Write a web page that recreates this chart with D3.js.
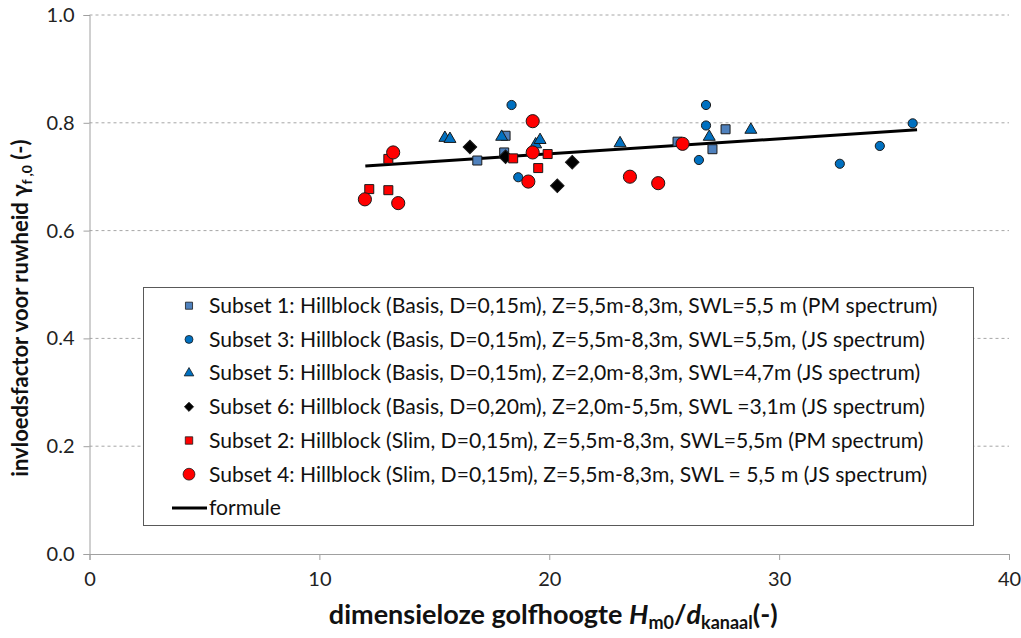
<!DOCTYPE html>
<html lang="nl">
<head>
<meta charset="UTF-8">
<title>invloedsfactor ruwheid</title>
<script src="https://d3js.org/d3.v7.min.js"></script>
<style>
  body { margin: 0; background: #fff; }
  text { font-family: Lato, "Open Sans", "DejaVu Sans", sans-serif; }
</style>
</head>
<body>
<script>
// data
var xTicks = [0, 10, 20, 30, 40];
var yTicks = [0, 0.2, 0.4, 0.6, 0.8, 1.0];

var s1x = [16.87, 18.1, 18.04, 25.58, 27.67, 27.1];
var s1y = [0.730, 0.776, 0.745, 0.765, 0.788, 0.751];

var s3x = [18.36, 18.65, 26.82, 26.82, 26.51, 32.64, 34.38, 35.81];
var s3y = [0.833, 0.699, 0.833, 0.795, 0.731, 0.724, 0.757, 0.799];

var s5x = [15.46, 15.68, 17.93, 19.41, 19.6, 23.08, 26.96, 28.77];
var s5y = [0.772, 0.770, 0.774, 0.760, 0.768, 0.762, 0.774, 0.787];

var s6x = [16.55, 18.1, 21.0, 20.35];
var s6y = [0.755, 0.737, 0.727, 0.683];

var s2x = [12.17, 13.0, 13.0, 18.43, 19.93, 19.52];
var s2y = [0.677, 0.675, 0.733, 0.734, 0.742, 0.716];

var s4x = [11.98, 13.43, 13.21, 19.28, 19.28, 19.09, 23.51, 24.74, 25.8];
var s4y = [0.658, 0.651, 0.745, 0.803, 0.745, 0.691, 0.700, 0.688, 0.761];

var formX = [12, 36];
var formY = [0.720, 0.787];

var legendLabels = [
  'Subset 1: Hillblock (Basis, D=0,15m), Z=5,5m-8,3m, SWL=5,5 m (PM spectrum)',
  'Subset 3: Hillblock (Basis, D=0,15m), Z=5,5m-8,3m, SWL=5,5m, (JS spectrum)',
  'Subset 5: Hillblock (Basis, D=0,15m), Z=2,0m-8,3m, SWL=4,7m (JS spectrum)',
  'Subset 6: Hillblock (Basis, D=0,20m), Z=2,0m-5,5m, SWL =3,1m (JS spectrum)',
  'Subset 2: Hillblock (Slim, D=0,15m), Z=5,5m-8,3m, SWL=5,5m (PM spectrum)',
  'Subset 4: Hillblock (Slim, D=0,15m), Z=5,5m-8,3m, SWL = 5,5 m (JS spectrum)',
  'formule'
];

var width = 1021, height = 638;
var plotLeft = 89.5, plotRight = 1009, plotTop = 15, plotBottom = 554;

var svg = d3.select('body').append('svg')
  .attr('width', width)
  .attr('height', height);

var x = d3.scaleLinear().domain([0, 40]).range([plotLeft, plotRight]);
var y = d3.scaleLinear().domain([0, 1]).range([plotBottom, plotTop]);

// gridlines
svg.append('g').selectAll('line')
  .data(yTicks.filter(function(d) { return d > 0; }))
  .enter().append('line')
    .attr('x1', plotLeft).attr('x2', plotRight)
    .attr('y1', function(d) { return y(d); })
    .attr('y2', function(d) { return y(d); })
    .attr('stroke', '#a6a6a6')
    .attr('stroke-dasharray', '3,3');

// axes
var xAxis = svg.append('g')
  .attr('transform', 'translate(0,' + plotBottom + ')')
  .call(d3.axisBottom(x).tickValues(xTicks).tickSize(6).tickPadding(12).tickFormat(d3.format('d')));
var yAxis = svg.append('g')
  .attr('transform', 'translate(' + plotLeft + ',0)')
  .call(d3.axisLeft(y).tickValues(yTicks).tickSize(6).tickPadding(9).tickFormat(d3.format('.1f')));

[xAxis, yAxis].forEach(function(a) {
  a.select('.domain').attr('stroke', '#a0a0a0');
  a.selectAll('.tick line').attr('stroke', '#a0a0a0');
  a.selectAll('.tick text').attr('fill', '#222').style('font-size', '20px')
    .style('font-family', 'Lato, "Open Sans", sans-serif');
});

// formula line
var line = d3.line()
  .x(function(d) { return x(d[0]); })
  .y(function(d) { return y(d[1]); });
svg.append('path')
  .datum(d3.zip(formX, formY))
  .attr('d', line)
  .attr('fill', 'none')
  .attr('stroke', '#000')
  .attr('stroke-width', 3);

var series = [
  { xs: s1x, ys: s1y, type: d3.symbolSquare, size: 81, fill: '#4f81bd', lsize: 50 },
  { xs: s3x, ys: s3y, type: d3.symbolCircle, size: 66, fill: '#0070c0', lsize: 50 },
  { xs: s5x, ys: s5y, type: d3.symbolTriangle, size: 62, fill: '#0070c0', lsize: 40 },
  { xs: s6x, ys: s6y, type: d3.symbolDiamond, size: 92, fill: '#000000', lsize: 42 },
  { xs: s2x, ys: s2y, type: d3.symbolSquare, size: 81, fill: '#ff0000', lsize: 55 },
  { xs: s4x, ys: s4y, type: d3.symbolCircle, size: 136, fill: '#ff0000', lsize: 110 }
];

// diamond as a square turned 45 degrees (the d3 diamond is too narrow)
function markerPath(s, size) {
  if (s.type === d3.symbolDiamond) {
    return d3.symbol().type(d3.symbolSquare).size(size)();
  }
  return d3.symbol().type(s.type).size(size)();
}
function markerRot(s) { return s.type === d3.symbolDiamond ? ' rotate(45)' : ''; }

series.forEach(function(s) {
  svg.append('g').selectAll('path')
    .data(d3.zip(s.xs, s.ys))
    .enter().append('path')
      .attr('transform', function(d) { return 'translate(' + x(d[0]) + ',' + y(d[1]) + ')' + markerRot(s); })
      .attr('d', markerPath(s, s.size))
      .attr('fill', s.fill)
      .attr('stroke', '#1a1a1a')
      .attr('stroke-width', 1);
});

// legend
var lg = svg.append('g');
lg.append('rect')
  .attr('x', 143.5).attr('y', 287.5)
  .attr('width', 830).attr('height', 238)
  .attr('fill', '#fff')
  .attr('stroke', '#595959')
  .attr('stroke-width', 1);

var rowY = function(i) { return 305.7 + i * 33.7; };

var labels = lg.selectAll('text')
  .data(legendLabels)
  .enter().append('text')
    .attr('x', 209)
    .attr('y', function(d, i) { return rowY(i); })
    .attr('dy', '0.35em')
    .attr('fill', '#111')
    .style('font-size', '19px')
    .text(function(d) { return d; });

// fit the font to the width of the first row
var w0 = labels.node().getComputedTextLength();
labels.style('font-size', (19 * 729 / w0).toFixed(2) + 'px');

series.forEach(function(s, i) {
  lg.append('path')
    .attr('transform', 'translate(189,' + rowY(i) + ')' + markerRot(s))
    .attr('d', markerPath(s, s.lsize))
    .attr('fill', s.fill)
    .attr('stroke', '#1a1a1a')
    .attr('stroke-width', 0.8);
});
lg.append('line')
  .attr('x1', 172).attr('x2', 207)
  .attr('y1', rowY(6)).attr('y2', rowY(6))
  .attr('stroke', '#000').attr('stroke-width', 3);

// axis titles
var xt = svg.append('text')
  .attr('x', (plotLeft + plotRight) / 2 + 4)
  .attr('y', 624)
  .attr('text-anchor', 'middle')
  .style('font-size', '27px')
  .style('font-weight', 'bold')
  .attr('fill', '#111');
xt.append('tspan').text('dimensieloze golfhoogte ');
xt.append('tspan').style('font-style', 'italic').text('H');
xt.append('tspan').attr('dy', 5).style('font-size', '18px').text('m0');
xt.append('tspan').attr('dy', -5).text('/');
xt.append('tspan').style('font-style', 'italic').text('d');
xt.append('tspan').attr('dy', 5).style('font-size', '18px').text('kanaal');
xt.append('tspan').attr('dy', -5).text('(-)');

var yt = svg.append('text')
  .attr('transform', 'translate(28,' + 308 + ') rotate(-90)')
  .attr('text-anchor', 'middle')
  .style('font-size', '22px')
  .style('font-weight', 'bold')
  .attr('fill', '#111');
yt.append('tspan').text('invloedsfactor voor ruwheid γ');
yt.append('tspan').attr('dy', 4).style('font-size', '14px').text('f ,0');
yt.append('tspan').attr('dy', -4).text(' (-)');
</script>
</body>
</html>
